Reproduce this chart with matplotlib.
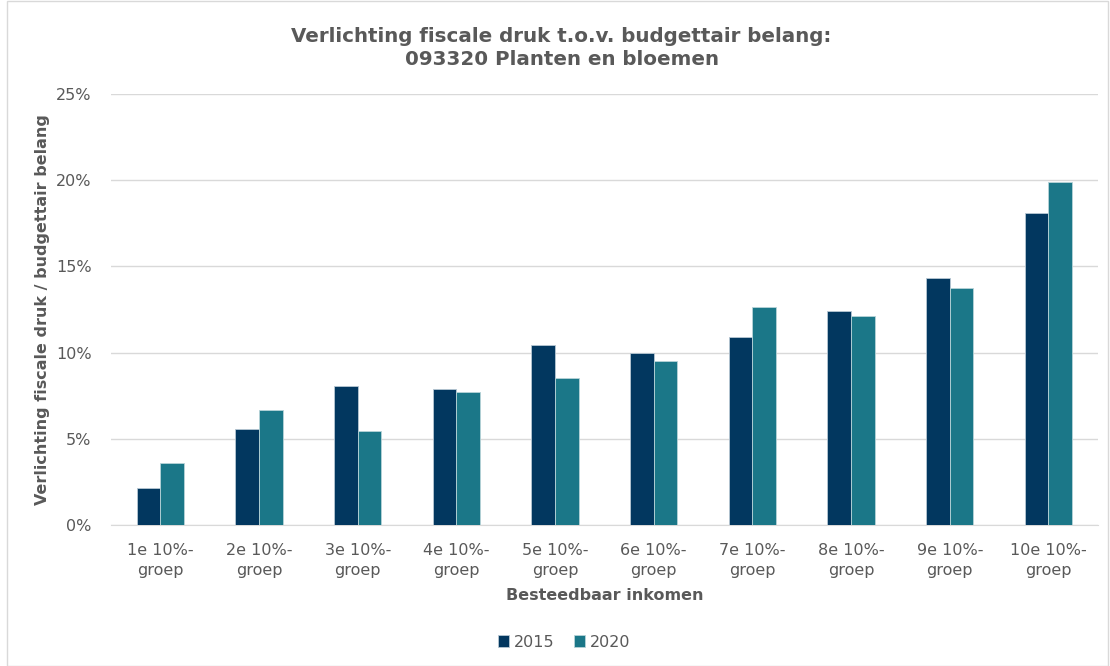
import matplotlib
matplotlib.use("Agg")
import matplotlib.pyplot as plt
import numpy as np
from matplotlib.patches import Rectangle
from matplotlib.ticker import FuncFormatter

groups = ["1e 10%-\ngroep", "2e 10%-\ngroep", "3e 10%-\ngroep", "4e 10%-\ngroep",
          "5e 10%-\ngroep", "6e 10%-\ngroep", "7e 10%-\ngroep", "8e 10%-\ngroep",
          "9e 10%-\ngroep", "10e 10%-\ngroep"]
vals_2015 = [2.12, 5.56, 8.05, 7.88, 10.44, 9.96, 10.93, 12.41, 14.34, 18.11]
vals_2020 = [3.59, 6.68, 5.46, 7.70, 8.53, 9.54, 12.63, 12.10, 13.73, 19.88]

c2015 = "#02375f"
c2020 = "#1b7788"
grey = "#595959"

plt.rcParams['font.family'] = ['DejaVu Sans']

fig = plt.figure(figsize=(11.1, 6.66), dpi=100)
ax = fig.add_axes([0.1, 0.2117, 0.889, 0.6472])

x = np.arange(len(groups))
w = 0.24
ax.bar(x - w/2, vals_2015, w, color=c2015, edgecolor="#b8c8d4", linewidth=0.6, label="2015", zorder=3)
ax.bar(x + w/2, vals_2020, w, color=c2020, edgecolor="#b8d4d8", linewidth=0.6, label="2020", zorder=3)

ax.set_xlim(-0.5, len(groups) - 0.5)
ax.set_ylim(0, 25)
ax.set_yticks(range(0, 26, 5))
ax.yaxis.set_major_formatter(FuncFormatter(lambda v, p: f"{int(v)}%"))
ax.grid(axis="y", color="#d9d9d9", linewidth=1, zorder=0)
ax.set_axisbelow(True)
for s in ["top", "right", "left"]:
    ax.spines[s].set_visible(False)
ax.spines["bottom"].set_color("#d9d9d9")
ax.tick_params(axis="both", length=0, colors=grey, labelsize=11.5)
ax.tick_params(axis="y", pad=14)
ax.tick_params(axis="x", pad=13)
ax.set_xticks(x)
ax.set_xticklabels(groups, linespacing=1.45)

ax.set_xlabel("Besteedbaar inkomen", fontsize=11.5, fontweight="bold", color=grey, labelpad=7)
ax.set_ylabel("Verlichting fiscale druk / budgettair belang", fontsize=11.5,
              fontweight="bold", color=grey, labelpad=4)
fig.text(0.506, 0.928, "Verlichting fiscale druk t.o.v. budgettair belang:\n093320 Planten en bloemen",
         ha="center", va="center", fontsize=14.3, fontweight="bold", color=grey, linespacing=1.3)

leg = fig.legend(loc="center", bbox_to_anchor=(0.508, 0.036), ncol=2, frameon=False,
                 fontsize=11.5, handlelength=0.7, handleheight=0.7, handletextpad=0.3,
                 columnspacing=1.2)
for t in leg.get_texts():
    t.set_color(grey)

fig.patches.append(Rectangle((0.006, 0.0), 0.992, 0.998, transform=fig.transFigure,
                             fill=False, edgecolor="#d9d9d9", linewidth=1))

fig.savefig("out.png", dpi=100)
